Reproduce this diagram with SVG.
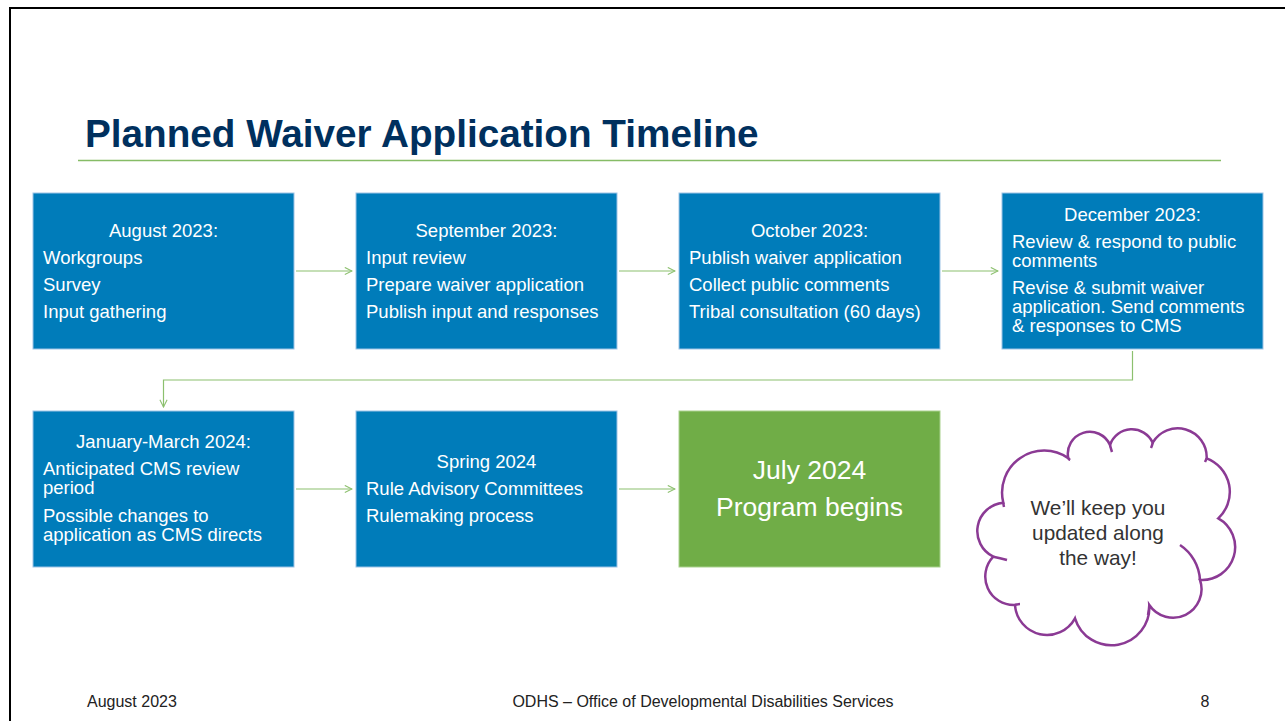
<svg xmlns="http://www.w3.org/2000/svg" width="1285" height="721" viewBox="0 0 1285 721">
<defs>
<style>
.box{fill:#007CBA;stroke:#9DC3E6;stroke-width:1}
.gbox{fill:#70AD47;stroke:#A9D18E;stroke-width:1}
.t{font-family:"Liberation Sans",Arial,sans-serif;font-size:18.5px;fill:#FFFFFF}
.c{text-anchor:middle}
.big{font-size:26.5px}
.conn{fill:none;stroke:#8CC06E;stroke-width:1.2}
.foot{font-family:"Liberation Sans",Arial,sans-serif;font-size:16px;fill:#222222}
.ct{font-family:"Liberation Sans",Arial,sans-serif;font-size:20.8px;fill:#333333;text-anchor:middle}
</style>
<marker id="arr" viewBox="0 0 10 10" refX="9" refY="5" markerWidth="9" markerHeight="9" markerUnits="userSpaceOnUse" orient="auto">
<path d="M1 1 L9 5 L1 9" fill="none" stroke="#8CC06E" stroke-width="1.2"/>
</marker>
</defs>
<rect width="1285" height="721" fill="#FFFFFF"/>
<path d="M10 721 V8 H1285" fill="none" stroke="#000000" stroke-width="2"/>
<text x="85" y="147" font-family="Liberation Sans,Arial,sans-serif" font-size="38.7" font-weight="bold" fill="#00305E">Planned Waiver Application Timeline</text>
<line x1="78" y1="160.5" x2="1221" y2="160.5" stroke="#86BC66" stroke-width="1.5"/>

<g id="connectors">
<line class="conn" x1="296" y1="271" x2="352" y2="271" marker-end="url(#arr)"/>
<line class="conn" x1="619" y1="271" x2="675" y2="271" marker-end="url(#arr)"/>
<line class="conn" x1="942" y1="271" x2="998" y2="271" marker-end="url(#arr)"/>
<path class="conn" d="M1132.5 351 V380 H163.5 V407" marker-end="url(#arr)"/>
<line class="conn" x1="296" y1="489" x2="352" y2="489" marker-end="url(#arr)"/>
<line class="conn" x1="619" y1="489" x2="675" y2="489" marker-end="url(#arr)"/>
</g>

<g id="aug2023">
<rect class="box" x="33" y="193" width="261" height="156"/>
<text class="t c" x="163.5" y="237">August 2023:</text>
<text class="t" x="43" y="264">Workgroups</text>
<text class="t" x="43" y="291">Survey</text>
<text class="t" x="43" y="318">Input gathering</text>
</g>

<g id="sep2023">
<rect class="box" x="356" y="193" width="261" height="156"/>
<text class="t c" x="486.5" y="237">September 2023:</text>
<text class="t" x="366" y="264">Input review</text>
<text class="t" x="366" y="291">Prepare waiver application</text>
<text class="t" x="366" y="318">Publish input and responses</text>
</g>

<g id="oct2023">
<rect class="box" x="679" y="193" width="261" height="156"/>
<text class="t c" x="809.5" y="237">October 2023:</text>
<text class="t" x="689" y="264">Publish waiver application</text>
<text class="t" x="689" y="291">Collect public comments</text>
<text class="t" x="689" y="318">Tribal consultation (60 days)</text>
</g>

<g id="dec2023">
<rect class="box" x="1002" y="193" width="261" height="156"/>
<text class="t c" x="1132.5" y="221">December 2023:</text>
<text class="t" x="1012" y="248">Review &amp; respond to public</text>
<text class="t" x="1012" y="267">comments</text>
<text class="t" x="1012" y="294">Revise &amp; submit waiver</text>
<text class="t" x="1012" y="313">application. Send comments</text>
<text class="t" x="1012" y="332">&amp; responses to CMS</text>
</g>

<g id="janmar2024">
<rect class="box" x="33" y="411" width="261" height="156"/>
<text class="t c" x="163.5" y="448">January-March 2024:</text>
<text class="t" x="43" y="475">Anticipated CMS review</text>
<text class="t" x="43" y="494">period</text>
<text class="t" x="43" y="522">Possible changes to</text>
<text class="t" x="43" y="541">application as CMS directs</text>
</g>

<g id="spring2024">
<rect class="box" x="356" y="411" width="261" height="156"/>
<text class="t c" x="486.5" y="468">Spring 2024</text>
<text class="t" x="366" y="495">Rule Advisory Committees</text>
<text class="t" x="366" y="522">Rulemaking process</text>
</g>

<g id="july2024">
<rect class="gbox" x="679" y="411" width="261" height="156"/>
<text class="t c big" x="809.5" y="479">July 2024</text>
<text class="t c big" x="809.5" y="516">Program begins</text>
</g>

<g id="cloud">
<path d="M1003.3 502.7 A42 42 0 0 1 1068.3 458.3 A22 22 0 0 1 1110 445 A23 23 0 0 1 1152.7 442.7 A29 29 0 0 1 1206.7 458.3 A36 36 0 0 1 1218.3 518.3 A33 33 0 0 1 1200 580 A28.5 28.5 0 0 1 1149.3 605 A38 38 0 0 1 1075 618.3 A32 32 0 0 1 1015 605 A28.5 28.5 0 0 1 993.3 556.7 A28.5 28.5 0 0 1 1003.3 502.7 Z" fill="#FFFFFF" stroke="#8B3A94" stroke-width="2.5"/>
<g fill="none" stroke="#8B3A94" stroke-width="2.5">
<path d="M1180 545 A45 45 0 0 1 1200 580"/>
<path d="M993.3 556.7 Q1000 558 1007 560"/>
<path d="M1068.3 458.3 Q1069 459 1070 460"/>
<path d="M1110 445 Q1111 449 1112 452"/>
<path d="M1152.7 442.7 Q1152 446 1151 448"/>
<path d="M1206.7 458.3 Q1206 460 1205 462"/>
<path d="M1149.3 605 Q1149 610 1148 615"/>
<path d="M1015 605 Q1018 604 1020 604"/>
<path d="M1003.3 502.7 Q1003.5 505 1004 507"/>
</g>
<text class="ct" x="1098" y="515">We’ll keep you</text>
<text class="ct" x="1098" y="540">updated along</text>
<text class="ct" x="1098" y="565">the way!</text>
</g>

<g id="footer">
<text class="foot" x="87" y="707">August 2023</text>
<text class="foot" x="703" y="707" text-anchor="middle">ODHS – Office of Developmental Disabilities Services</text>
<text class="foot" x="1205" y="707" text-anchor="middle">8</text>
</g>
</svg>
